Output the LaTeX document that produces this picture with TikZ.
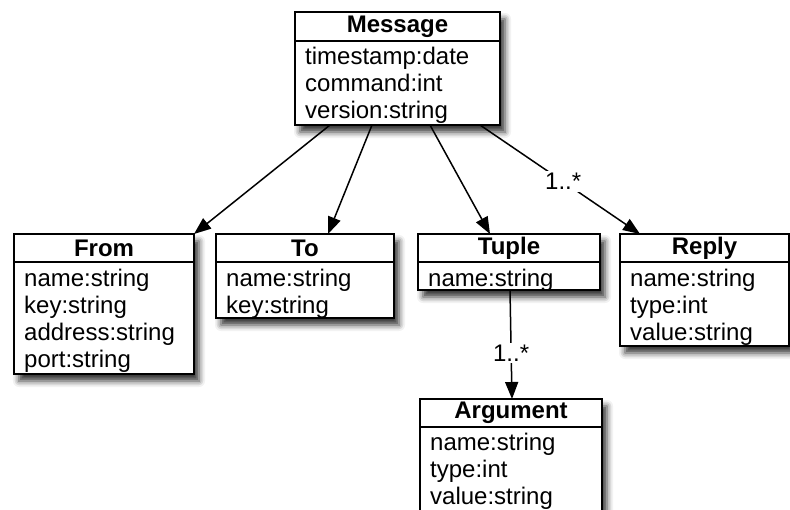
\documentclass[tikz,border=0pt]{standalone}
\usepackage{fontspec}
\setmainfont{Liberation Sans}
\usetikzlibrary{arrows.meta}
\usetikzlibrary{shadows.blur}

\begin{document}
\begin{tikzpicture}[x=1pt,y=-1pt,
    box/.style={draw,line width=1.8pt,fill=white,inner sep=0pt,outer sep=0pt,anchor=north west,
      blur shadow={shadow xshift=5pt,shadow yshift=-7pt,shadow blur radius=6pt,shadow opacity=80}},
    head/.style={draw,line width=1.8pt,inner sep=0pt,outer sep=0pt,anchor=north,
      minimum height=28pt,font=\fontsize{24}{27}\selectfont\bfseries},
    attrs/.style={anchor=north west,inner sep=0pt,align=left,font=\fontsize{24}{27}\selectfont},
    assoc/.style={line width=1.5pt,-{Triangle[length=17pt,width=13pt]}},
    mult/.style={fill=white,inner sep=2pt,font=\fontsize{24}{26}\selectfont}]
    \useasboundingbox (0,0) rectangle (790,509);
    % classes
    \node[box,minimum width=205pt,minimum height=113pt] (msg) at (295,12) {};
    \node[head,minimum width=205pt,minimum height=29pt] (msgt) at (397.5,12) {Message};
    \node[attrs] (msgb) at (305,47) {timestamp:date\\command:int\\version:string};
    %
    \node[box,minimum width=180pt,minimum height=140pt] (from) at (14,234) {};
    \node[head,minimum width=180pt] (fromt) at (104,234) {From};
    \node[attrs] (fromb) at (24,269) {name:string\\key:string\\address:string\\port:string};
    %
    \node[box,minimum width=178pt,minimum height=84pt] (to) at (216,234) {};
    \node[head,minimum width=178pt] (tot) at (305,234) {To};
    \node[attrs] (tob) at (226,269) {name:string\\key:string};
    %
    \node[box,minimum width=182pt,minimum height=56pt] (tuple) at (418,234) {};
    \node[head,minimum width=182pt] (tuplet) at (509,234) {Tuple};
    \node[attrs] (tupleb) at (428,269) {name:string};
    %
    \node[box,minimum width=169pt,minimum height=112pt] (reply) at (620,234) {};
    \node[head,minimum width=169pt] (replyt) at (704.5,234) {Reply};
    \node[attrs] (replyb) at (630,269) {name:string\\type:int\\value:string};
    %
    \node[box,minimum width=182pt,minimum height=120pt] (arg) at (420,399) {};
    \node[head,minimum width=182pt] (argt) at (511,399) {Argument};
    \node[attrs] (argb) at (430,433) {name:string\\type:int\\value:string};
    % associations
    \draw[assoc] ([xshift=35pt]msg.south west) -- (from.north east);
    \draw[assoc] ([xshift=77pt]msg.south west) -- ([xshift=112pt]to.north west);
    \draw[assoc] ([xshift=135pt]msg.south west) -- ([xshift=72pt]tuple.north west);
    \draw[assoc] ([xshift=185pt]msg.south west) -- node[mult,pos=0.52] (m1) {1..*} ([xshift=20pt]reply.north west);
    \draw[assoc] ([xshift=92pt]tuple.south west) -- node[mult,pos=0.58] (m2) {1..*} ([xshift=92pt]arg.north west);
\end{tikzpicture}
\end{document}
